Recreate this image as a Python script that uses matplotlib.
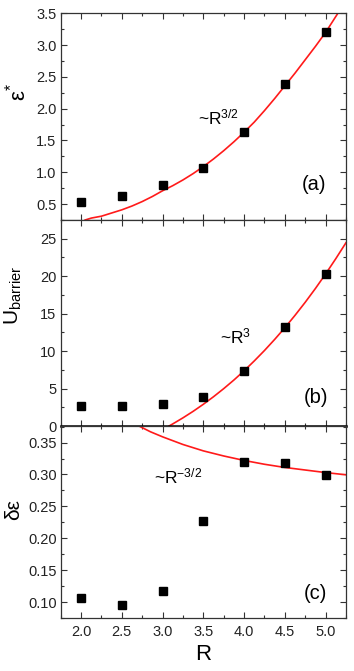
import matplotlib
matplotlib.use("Agg")
import matplotlib.pyplot as plt
from matplotlib.ticker import MultipleLocator

plt.rcParams['font.family'] = ['Liberation Sans', 'DejaVu Sans']
plt.rcParams['mathtext.fontset'] = 'custom'
plt.rcParams['mathtext.rm'] = 'Liberation Sans'
plt.rcParams['mathtext.it'] = 'Liberation Sans:italic'
plt.rcParams['mathtext.bf'] = 'Liberation Sans:bold'

# ---- data ----
R = [2.0, 2.5, 3.0, 3.5, 4.0, 4.5, 5.0]
eps_star = [0.54, 0.63, 0.80, 1.07, 1.64, 2.39, 3.20]
u_barrier = [2.62, 2.71, 2.89, 3.87, 7.38, 13.17, 20.28]
delta_eps = [0.107, 0.096, 0.118, 0.227, 0.319, 0.3175, 0.299]

# fit curves
fit_a_R = [2.05, 2.125, 2.25, 2.375, 2.5, 2.625, 2.75, 2.875, 3.0, 3.125, 3.25, 3.375,
           3.5, 3.625, 3.75, 3.875, 4.0, 4.125, 4.25, 4.375, 4.5, 4.625, 4.75, 4.875,
           5.0, 5.075, 5.15]
fit_a_y = [0.25, 0.28, 0.31, 0.36, 0.41, 0.47, 0.54, 0.62, 0.71, 0.79, 0.88, 0.98,
           1.09, 1.21, 1.34, 1.48, 1.63, 1.79, 1.97, 2.16, 2.36, 2.56, 2.77, 2.98,
           3.20, 3.35, 3.50]
fit_b_R = [3.08, 3.125, 3.25, 3.375, 3.5, 3.625, 3.75, 3.875, 4.0, 4.125, 4.25, 4.375,
           4.5, 4.625, 4.75, 4.875, 5.0, 5.125, 5.25]
fit_b_y = [0.0, 0.28, 1.09, 1.96, 2.90, 3.91, 4.99, 6.14, 7.37, 8.69, 10.08, 11.56,
           13.12, 14.78, 16.52, 18.36, 20.30, 22.34, 24.47]
fit_c_R = [2.71, 2.85, 3.0, 3.25, 3.5, 3.75, 4.0, 4.25, 4.5, 4.75, 5.0, 5.25]
fit_c_y = [0.376, 0.367, 0.359, 0.347, 0.337, 0.329, 0.322, 0.316, 0.311, 0.307, 0.303, 0.2995]

W, H = 354, 671
fig = plt.figure(figsize=(W / 100, H / 100), dpi=100)

left = 60.7 / W
width = (346 - 60.7) / W
ax_a = fig.add_axes([left, 1 - 220 / H, width, (220 - 13.3) / H])
ax_b = fig.add_axes([left, 1 - 426 / H, width, (426 - 220) / H])
ax_c = fig.add_axes([left, 1 - 618 / H, width, (618 - 426) / H])

ms = 6.2
red = '#ff1a1a'
for ax in (ax_a, ax_b, ax_c):
    ax.set_xlim(1.75, 5.25)
    ax.xaxis.set_major_locator(MultipleLocator(0.5))
    ax.xaxis.set_minor_locator(MultipleLocator(0.25))
    ax.tick_params(which='both', direction='in', top=True, right=True,
                   labelsize=10.5, width=0.8, color='#333333', labelcolor='#222222')
    ax.tick_params(which='major', length=4, pad=3.0)
    ax.tick_params(which='minor', length=2.2)
    for s in ax.spines.values():
        s.set_linewidth(0.9)
        s.set_color('#333333')

# panel a
ax_a.plot(fit_a_R, fit_a_y, color=red, lw=1.2, zorder=2)
ax_a.plot(R, eps_star, 's', color='black', ms=ms, zorder=3)
ax_a.set_ylim(0.25, 3.5)
ax_a.yaxis.set_major_locator(MultipleLocator(0.5))
ax_a.yaxis.set_minor_locator(MultipleLocator(0.25))
ax_a.tick_params(labelbottom=False)
ax_a.set_ylabel('ε$^{*}$', fontsize=16)
ax_a.text(3.44, 1.746, '~R$^{3/2}$', fontsize=12.5, ha='left', va='baseline')
ax_a.text(4.707, 0.72, '(a)', fontsize=14.5, ha='left', va='baseline')

# panel b
ax_b.plot(fit_b_R, fit_b_y, color=red, lw=1.2, zorder=2, clip_on=False)
ax_b.plot(R, u_barrier, 's', color='black', ms=ms, zorder=3)
ax_b.set_ylim(0, 27.5)
ax_b.yaxis.set_major_locator(MultipleLocator(5))
ax_b.yaxis.set_minor_locator(MultipleLocator(2.5))
ax_b.tick_params(labelbottom=False)
ax_b.spines['bottom'].set_linewidth(1.8)
ax_b.spines['bottom'].set_color('black')
ax_b.spines['bottom'].set_zorder(5)
ax_b.set_ylabel('U$_{\\mathrm{barrier}}$', fontsize=15)
ax_b.text(3.71, 11.05, '~R$^{3}$', fontsize=12.5, ha='left', va='baseline')
ax_b.text(4.736, 3.1, '(b)', fontsize=14.5, ha='left', va='baseline')

# panel c
ax_c.plot(fit_c_R, fit_c_y, color=red, lw=1.2, zorder=2)
ax_c.plot(R, delta_eps, 's', color='black', ms=ms, zorder=3)
ax_c.set_ylim(0.075, 0.376)
ax_c.yaxis.set_major_locator(MultipleLocator(0.05))
ax_c.yaxis.set_minor_locator(MultipleLocator(0.025))
ax_c.yaxis.set_major_formatter(matplotlib.ticker.FormatStrFormatter('%.2f'))
ax_c.tick_params(which='major', axis='x', pad=5)
ax_c.set_ylabel('δε', fontsize=15)
ax_c.set_xlabel('R', fontsize=16, labelpad=4)
ax_c.text(2.89, 0.286, '~R$^{-3/2}$', fontsize=12.5, ha='left', va='baseline')
ax_c.text(4.73, 0.105, '(c)', fontsize=14.5, ha='left', va='baseline')

ax_a.yaxis.set_label_coords(-0.105, 0.62)
ax_b.yaxis.set_label_coords(-0.13, 0.636)
ax_c.yaxis.set_label_coords(-0.13, 0.5625)

fig.savefig('out.png', dpi=100)
